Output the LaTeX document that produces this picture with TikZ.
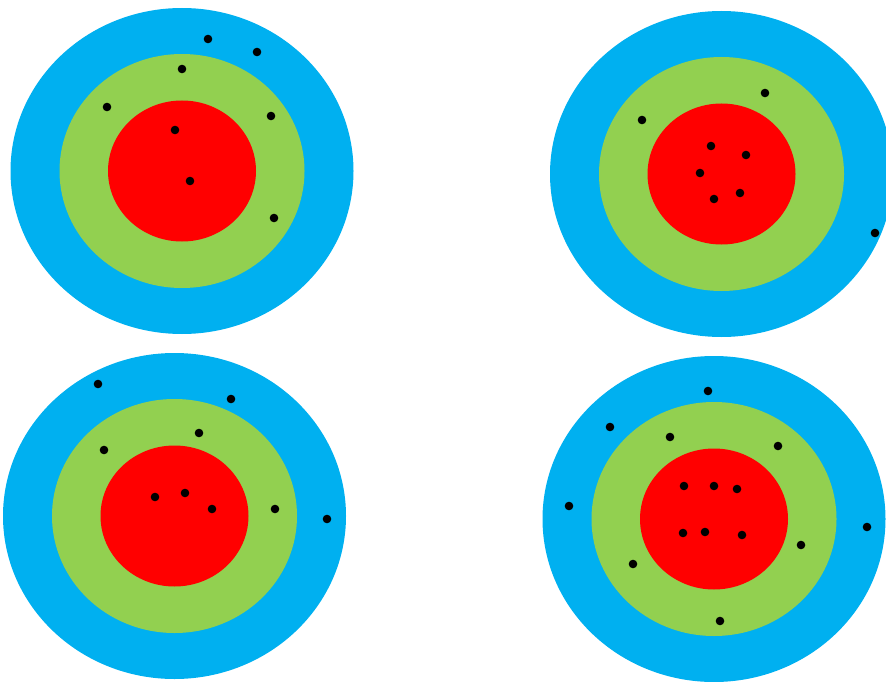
\documentclass[tikz,border=0pt]{standalone}
\definecolor{tblue}{HTML}{00B0F0}
\definecolor{tgreen}{HTML}{92D050}
\definecolor{tred}{HTML}{FF0000}
\tikzset{
  hit/.style={fill=black},
}
\newcommand{\target}[3]{% cx, cy, dots
  \fill[tblue] (#1,#2) ellipse [x radius=171.5, y radius=163];
  \fill[tgreen] (#1,#2) ellipse [x radius=122.5, y radius=117];
  \fill[tred] (#1,#2) ellipse [x radius=74, y radius=70.5];
  \foreach \px/\py in {#3} {\fill[hit] (\px,\py) circle [radius=4.3pt];}
}
\begin{document}
\begin{tikzpicture}[x=1pt,y=-1pt]
\useasboundingbox (0,0) rectangle (886,682);
\clip (0,0) rectangle (886,682);
\target{182}{171}{208/39,257/52,182/69,107/107,271/116,175/130,190/181,274/218}
\target{721.5}{174}{765/93,642/120,711/146,746/155,700/173,740/193,714/199,875/233}
\target{174.5}{516}{98/384,231/399,199/433,104/450,185/493,155/497,212/509,275/509,327/519}
\target{714}{519}{708/391,610/427,670/437,778/446,684/486,714/486,737/489,569/506,867/527,683/533,705/532,742/535,801/545,633/564,720/621}
\end{tikzpicture}
\end{document}
